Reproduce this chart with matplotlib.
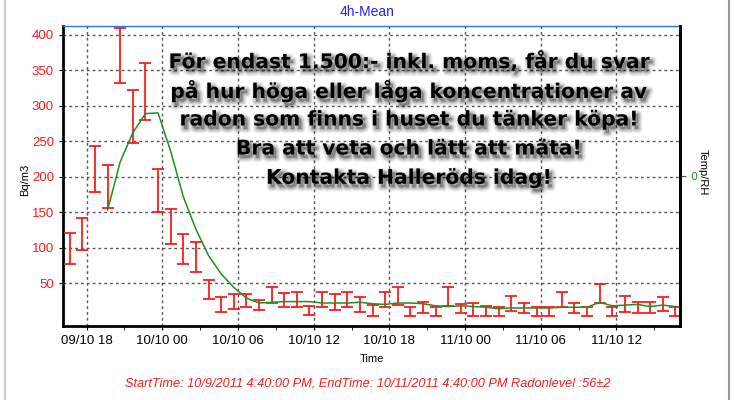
#!/usr/bin/env python3

import matplotlib
matplotlib.use('Agg')
import matplotlib.pyplot as plt
import matplotlib.dates as mdates
import matplotlib.patheffects as pe
from matplotlib import font_manager
from matplotlib.lines import Line2D
import numpy as np
import pandas as pd


""" Data (read off the picture) """
t_start  = '2011-10-09 16:40'     # first hourly value
# error bar ends per hour (Bq/m3)
radon_lo = [77, 97, 178, 156, 332, 248, 280, 150, 105, 77,
            66, 27, 9, 14, 16, 12, 22, 16, 16, 5,
            16, 12, 16, 9, 4, 16, 19, 4, 8, 4,
            18, 8, 4, 4, 4, 11, 8, 4, 4, 16,
            8, 4, 22, 4, 10, 8, 8, 11, 4]
radon_hi = [120, 142, 244, 216, 410, 322, 361, 211, 154, 119,
            108, 55, 30, 35, 35, 26, 44, 36, 37, 18,
            37, 35, 37, 31, 19, 37, 44, 17, 23, 17,
            44, 21, 22, 18, 17, 32, 22, 17, 17, 37,
            22, 17, 49, 17, 32, 23, 23, 31, 17]
# 4h mean line, starts at the 4th hour
trend    = [153, 221, 262, 289, 290, 236, 172, 126, 89, 63,
            44, 29, 22, 23, 24, 24, 24, 22, 22, 22,
            23, 21, 20, 22, 22, 21, 18, 17, 18, 17,
            16, 14, 15, 15, 15, 15, 16, 16, 16, 23,
            18, 19, 20, 17, 19, 17]

y_ticks  = [50, 100, 150, 200, 250, 300, 350, 400]

title_txt  = '4h-Mean'
footer_txt = ('StartTime: 10/9/2011 4:40:00 PM, EndTime: 10/11/2011 4:40:00 PM '
              'Radonlevel :56\u00b12')
ad_lines   = ['För endast 1.500:- inkl. moms, får du svar',
              'på hur höga eller låga koncentrationer av',
              'radon som finns i huset du tänker köpa!',
              'Bra att veta och lätt att mäta!',
              'Kontakta Halleröds idag!']


# narrow font if we have it
names = {f.name for f in font_manager.fontManager.ttflist}
narrow = 'Liberation Sans Narrow' if 'Liberation Sans Narrow' in names else 'Liberation Sans'

W, H = 735, 400
red   = '#ff1a1a'
green = '#1f8f1f'


""" Plot """
times = pd.date_range(t_start, periods=len(radon_lo), freq='h')
lo  = np.array(radon_lo, dtype=float)
hi  = np.array(radon_hi, dtype=float)
mid = (lo + hi) / 2

fig = plt.figure(figsize=(W/100, H/100), dpi=100)
ax  = fig.add_axes([63/W, 1 - 325.7/H, (680 - 63)/W, (325.7 - 26)/H])

ax.errorbar(times, mid, yerr=(hi - lo)/2, fmt='none', ecolor=red,
            elinewidth=1.3, capsize=4, capthick=1.3, zorder=3)
ax.plot(times[3:], trend, color=green, lw=1.1, zorder=4)

ax.set_xlim(pd.Timestamp('2011-10-09 16:08'), pd.Timestamp('2011-10-11 17:02'))
ax.set_ylim(-10, 412.5)
ax.set_yticks(y_ticks)

ax.xaxis.set_major_locator(mdates.HourLocator(byhour=[0, 6, 12, 18]))
ax.xaxis.set_minor_locator(mdates.HourLocator(byhour=[3, 9, 15, 21]))
ax.xaxis.set_major_formatter(mdates.DateFormatter('%d/%m %H'))

ax.grid(True, which='major', color='#555555', linestyle=(0, (2, 2.2)), lw=1)
ax.tick_params(axis='y', colors='black', labelcolor=red, labelsize=9.5, length=3)
ax.tick_params(axis='x', which='both', length=3, labelsize=9.5, pad=4)
for lbl in ax.get_xticklabels() + ax.get_yticklabels():
  lbl.set_family(narrow)

for s in ['left', 'bottom', 'right']:
  ax.spines[s].set_color('black')
  ax.spines[s].set_linewidth(2)
ax.spines['top'].set_color('#2f6fff')
ax.spines['top'].set_linewidth(1)

ax.set_xlabel('Time', fontsize=8, family=narrow, labelpad=5)

# right hand Temp/RH axis (empty)
ax2 = ax.twinx()
ax2.set_ylim(-1, 1)
ax2.set_yticks([0])
ax2.tick_params(axis='y', colors='#555555', labelcolor=green, labelsize=8, length=4)
for s in ['left', 'bottom', 'top']:
  ax2.spines[s].set_visible(False)
ax2.spines['right'].set_color('black')
ax2.spines['right'].set_linewidth(2)

fig.text(367/W, 1 - 12/H, title_txt, color='#2323ff', fontsize=10,
         family=narrow, ha='center', va='center')
fig.text(25/W, 1 - 180/H, 'Bq/m3', fontsize=8, family=narrow, rotation=90,
         ha='center', va='center')
fig.text(703/W, 1 - 172/H, 'Temp/RH', fontsize=8, family=narrow, rotation=270,
         ha='center', va='center')
fig.text(368/W, 1 - 383/H, footer_txt, color=red, fontsize=9.2, style='italic',
         family=narrow, ha='center', va='center')

# advert text with soft drop shadow
shadow = [pe.Stroke(offset=(2, -2.5), linewidth=w, foreground='black', alpha=a)
          for w, a in [(6, 0.07), (4, 0.1), (2, 0.15)]]
shadow.append(pe.Normal())
ad_y = [61.7, 91, 120, 149, 178.3]
for txt, yy in zip(ad_lines, ad_y):
  fig.text(409/W, 1 - yy/H, txt, fontsize=14.6, family='DejaVu Sans',
           weight='bold', ha='center', va='center', zorder=10,
           path_effects=shadow)

# window borders
fig.add_artist(Line2D([5/W, 5/W], [0, 1], color='#cccccc', lw=1.5))
fig.add_artist(Line2D([729/W, 729/W], [0, 1], color='#999999', lw=1.5))

fig.savefig('out.png', dpi=100)
